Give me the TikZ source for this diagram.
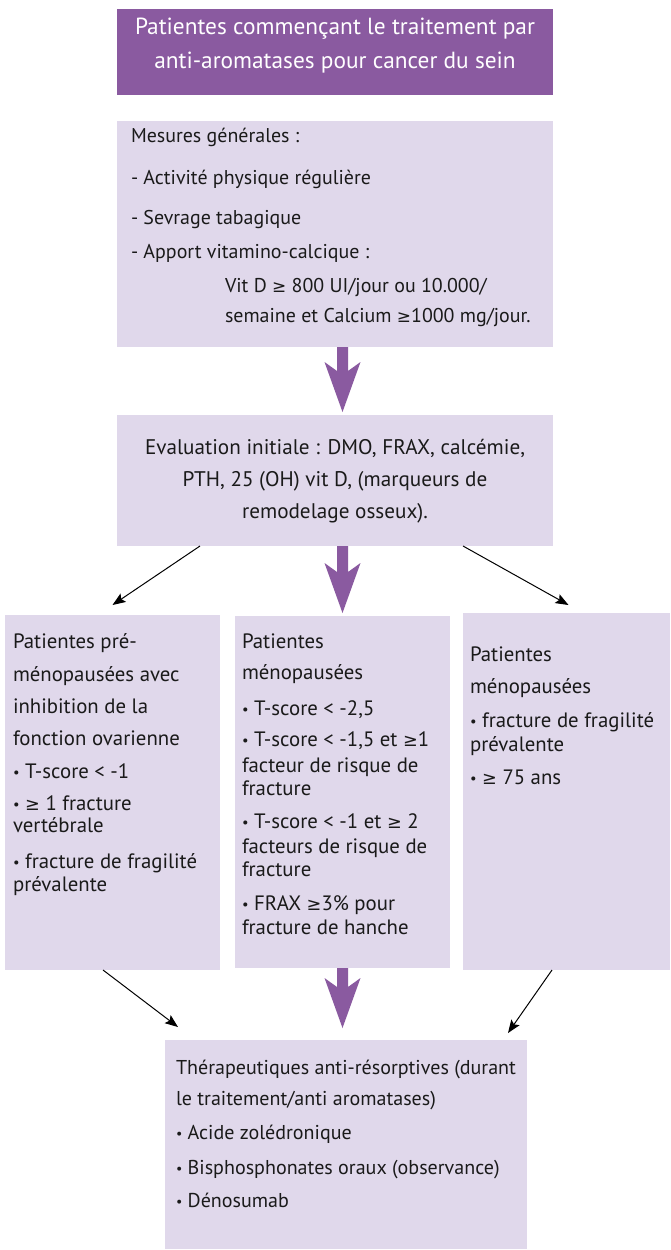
\documentclass[tikz,border=0pt]{standalone}
\usepackage{fontspec}
\usepackage{graphicx}
\setmainfont{PT Sans}
\newfontfamily\symf{DejaVu Sans}[Scale=0.85]
\usetikzlibrary{arrows.meta,calc}
\definecolor{toppurple}{HTML}{8A5AA0}
\definecolor{arrowfill}{HTML}{8A5AA0}
\definecolor{lav}{HTML}{E0D8EB}
\definecolor{txtcol}{HTML}{1A1A1A}
\newlength\reflen
\newcommand\gq{{\symf ≥}}
\newcommand\bul{\raisebox{0.12ex}{\scalebox{0.7}{•}}}
\newcommand\mycalcsize[3]{\settowidth\reflen{\normalfont\fontsize{10pt}{12pt}\selectfont #2}\pgfmathsetmacro#1{10*#3/\reflen}}
\newcommand\fatarrow[2]{\fill[arrowfill] ($(#1)+(-5.5,0)$) -- ($(#2)+(-5.5,-41)$) -- ($(#2)+(-18,-50)$) -- (#2) -- ($(#2)+(18,-50)$) -- ($(#2)+(5.5,-41)$) -- ($(#1)+(5.5,0)$) -- cycle;}
\tikzset{
  pbox/.style={fill=toppurple, inner sep=0pt, outer sep=0pt, anchor=north west},
  lbox/.style={fill=lav, inner sep=0pt, outer sep=0pt, anchor=north west},
  ln/.style={inner sep=0pt, outer sep=0pt, text=txtcol, anchor=mid west},
  lnc/.style={inner sep=0pt, outer sep=0pt, text=txtcol, anchor=mid},
  thinarrow/.style={-{Stealth[length=13pt,width=10pt,inset=2.5pt]}, line width=1pt, black},
  fA/.style={font=\fontsize{\szA pt}{\szA pt}\selectfont},
  fB/.style={font=\fontsize{\szB pt}{\szB pt}\selectfont},
  fC/.style={font=\fontsize{\szC pt}{\szC pt}\selectfont},
  fD/.style={font=\fontsize{\szD pt}{\szD pt}\selectfont},
  fE/.style={font=\fontsize{\szE pt}{\szE pt}\selectfont},
}
\begin{document}
\mycalcsize{\szA}{Patientes commençant le traitement par}{400}%
\mycalcsize{\szB}{- Activité physique régulière}{240}%
\mycalcsize{\szC}{Evaluation initiale : DMO, FRAX, calcémie,}{380}%
\mycalcsize{\szD}{fracture de fragilité}{172}%
\mycalcsize{\szE}{Thérapeutiques anti-résorptives (durant}{340}%
\begin{tikzpicture}[x=1pt,y=-1pt]
\useasboundingbox (0,0) rectangle (670,1250);
\fill[white] (0,0) rectangle (670,1250);
% boxes
\node[pbox, minimum width=436pt, minimum height=86pt] (b1) at (117,9) {};
\node[lbox, minimum width=436pt, minimum height=226pt] (b2) at (117,121) {};
\node[lbox, minimum width=436pt, minimum height=131pt] (b3) at (117,415) {};
\node[lbox, minimum width=215pt, minimum height=355pt] (b4) at (5,615) {};
\node[lbox, minimum width=215pt, minimum height=352pt] (b5) at (235,616) {};
\node[lbox, minimum width=207pt, minimum height=357pt] (b6) at (463,613) {};
\node[lbox, minimum width=362pt, minimum height=209pt] (b7) at (165,1040) {};
% big arrows
\coordinate (a1s) at (b2.south -| b5.north);
\coordinate (a1e) at ($(b3.north -| b5.north)+(0,-3)$);
\coordinate (a2s) at (b3.south -| b5.north);
\coordinate (a2e) at ($(b5.north)+(0,-3)$);
\coordinate (a3s) at (b5.south);
\coordinate (a3e) at ($(b7.north -| b5.north)+(0,-12)$);
\fatarrow{a1s}{a1e}
\fatarrow{a2s}{a2e}
\fatarrow{a3s}{a3e}
% thin arrows
\draw[thinarrow] ($(b3.south west)+(83,0)$) -- ($(b4.north)+(0,-10)$);
\draw[thinarrow] ($(b3.south west)+(346,0)$) -- ($(b6.north)+(2,-8)$);
\draw[thinarrow] ($(b4.south)+(-9.5,0)$) -- ($(b7.north west)+(13,-13)$);
\draw[thinarrow] ($(b6.south)+(-14.5,0)$) -- ($(b7.north east)+(-19,-7)$);
% top box text
\node[lnc, fA, text=white] (t1a) at (335,32) {Patientes commençant le traitement par};
\node[lnc, fA, text=white] (t1b) at (335,66) {anti-aromatases pour cancer du sein};
% box 2
\node[ln, fB] (t2a) at (131,140) {Mesures générales :};
\node[ln, fB] (t2b) at (131,182) {- Activité physique régulière};
\node[ln, fB] (t2c) at (131,222) {- Sevrage tabagique};
\node[ln, fB] (t2d) at (131,256) {- Apport vitamino-calcique :};
\node[ln, fB] (t2e) at (225,290) {Vit D \gq{} 800 UI/jour ou 10.000/};
\node[ln, fB] (t2f) at (225,320) {semaine et Calcium \gq1000 mg/jour.};
% box 3
\node[lnc, fC] (t3a) at (335,452) {Evaluation initiale : DMO, FRAX, calcémie,};
\node[lnc, fC] (t3b) at (335,484) {PTH, 25 (OH) vit D, (marqueurs de};
\node[lnc, fC] (t3c) at (335,516) {remodelage osseux).};
% box 4
\node[ln, fD] (t4a) at (13,646) {Patientes pré-};
\node[ln, fD] (t4b) at (13,679) {ménopausées avec};
\node[ln, fD] (t4c) at (13,711) {inhibition de la};
\node[ln, fD] (t4d) at (13,743) {fonction ovarienne};
\node[ln, fD] (t4e) at (13,776) {\bul{} T-score < -1};
\node[ln, fD] (t4f) at (13,808) {\bul{} \gq{} 1 fracture};
\node[ln, fD] (t4g) at (13,830) {vertébrale};
\node[ln, fD] (t4h) at (13,866) {\bul{} fracture de fragilité};
\node[ln, fD] (t4i) at (13,889) {prévalente};
% box 5
\node[ln, fD] (t5a) at (242,646) {Patientes};
\node[ln, fD] (t5b) at (242,677) {ménopausées};
\node[ln, fD] (t5c) at (242,713) {\bul{} T-score < -2,5};
\node[ln, fD] (t5d) at (242,744) {\bul{} T-score < -1,5 et \gq1};
\node[ln, fD] (t5e) at (242,770) {facteur de risque de};
\node[ln, fD] (t5f) at (242,793) {fracture};
\node[ln, fD] (t5g) at (242,826) {\bul{} T-score < -1 et \gq{} 2};
\node[ln, fD] (t5h) at (242,851) {facteurs de risque de};
\node[ln, fD] (t5i) at (242,874) {fracture};
\node[ln, fD] (t5j) at (242,908) {\bul{} FRAX \gq3\% pour};
\node[ln, fD] (t5k) at (242,932) {fracture de hanche};
% box 6
\node[ln, fD] (t6a) at (470,659) {Patientes};
\node[ln, fD] (t6b) at (470,691) {ménopausées};
\node[ln, fD] (t6c) at (470,725) {\bul{} fracture de fragilité};
\node[ln, fD] (t6d) at (470,749) {prévalente};
\node[ln, fD] (t6e) at (470,782) {\bul{} \gq{} 75 ans};
% bottom box
\node[ln, fE] (t7a) at (176,1072) {Thérapeutiques anti-résorptives (durant};
\node[ln, fE] (t7b) at (176,1103) {le traitement/anti aromatases)};
\node[ln, fE] (t7c) at (176,1137) {\bul{} Acide zolédronique};
\node[ln, fE] (t7d) at (176,1172) {\bul{} Bisphosphonates oraux (observance)};
\node[ln, fE] (t7e) at (176,1205) {\bul{} Dénosumab};
\end{tikzpicture}
\end{document}
